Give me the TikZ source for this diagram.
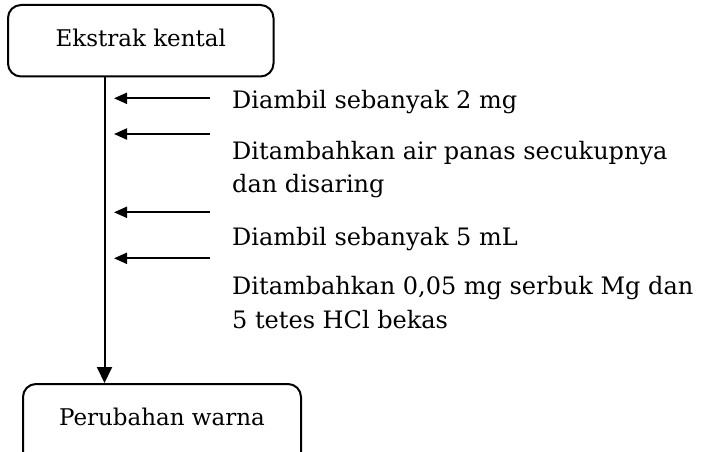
\documentclass[tikz,border=0pt]{standalone}
\usepackage{fontspec}
\setmainfont{DejaVu Serif}
\usetikzlibrary{arrows.meta}
\begin{document}
\begin{tikzpicture}[x=1pt,y=1pt,
  box/.style={draw, line width=2pt, rounded corners=13pt, inner sep=0pt},
  boxtext/.style={font=\fontsize{23}{28}\selectfont},
  lbl/.style={font=\fontsize{24}{33.3}\selectfont, inner sep=0pt, align=left, anchor=base west},
  mainflow/.style={line width=2pt, -{Triangle[length=16pt,width=15pt]}},
  sidearrow/.style={line width=2pt, -{Triangle[length=13pt,width=11pt]}},
]
\useasboundingbox (0,0) rectangle (705,-452);
\clip (0,0) rectangle (705,-452);
\node[box, boxtext, minimum width=265.5pt, minimum height=71.5pt, text height=17pt, text depth=5pt] (top) at (140.75,-40.75) {Ekstrak kental};
\node[box, boxtext, anchor=north, minimum width=278pt, text height=41pt, text depth=60pt] (bottom) at (162,-383) {Perubahan warna};
\coordinate (vx) at (104.5,0);
\draw[mainflow] (vx |- top.south) -- (vx |- bottom.north);
\coordinate (a1s) at (210,-98.3);  \coordinate (a1e) at (114,-98.3);
\coordinate (a2s) at (210,-134); \coordinate (a2e) at (114,-134);
\coordinate (a3s) at (210,-212.3); \coordinate (a3e) at (114,-212.3);
\coordinate (a4s) at (210,-258.3); \coordinate (a4e) at (114,-258.3);
\draw[sidearrow] (a1s) -- (a1e);
\draw[sidearrow] (a2s) -- (a2e);
\draw[sidearrow] (a3s) -- (a3e);
\draw[sidearrow] (a4s) -- (a4e);
\node[lbl] (t1) at (232,-109) {Diambil sebanyak 2 mg};
\node[lbl] (t2) at (232,-193) {Ditambahkan air panas secukupnya\\dan disaring};
\node[lbl] (t3) at (232,-245) {Diambil sebanyak 5 mL};
\node[lbl] (t4) at (232,-328) {Ditambahkan 0,05 mg serbuk Mg dan\\5 tetes HCl bekas};
\end{tikzpicture}
\end{document}
